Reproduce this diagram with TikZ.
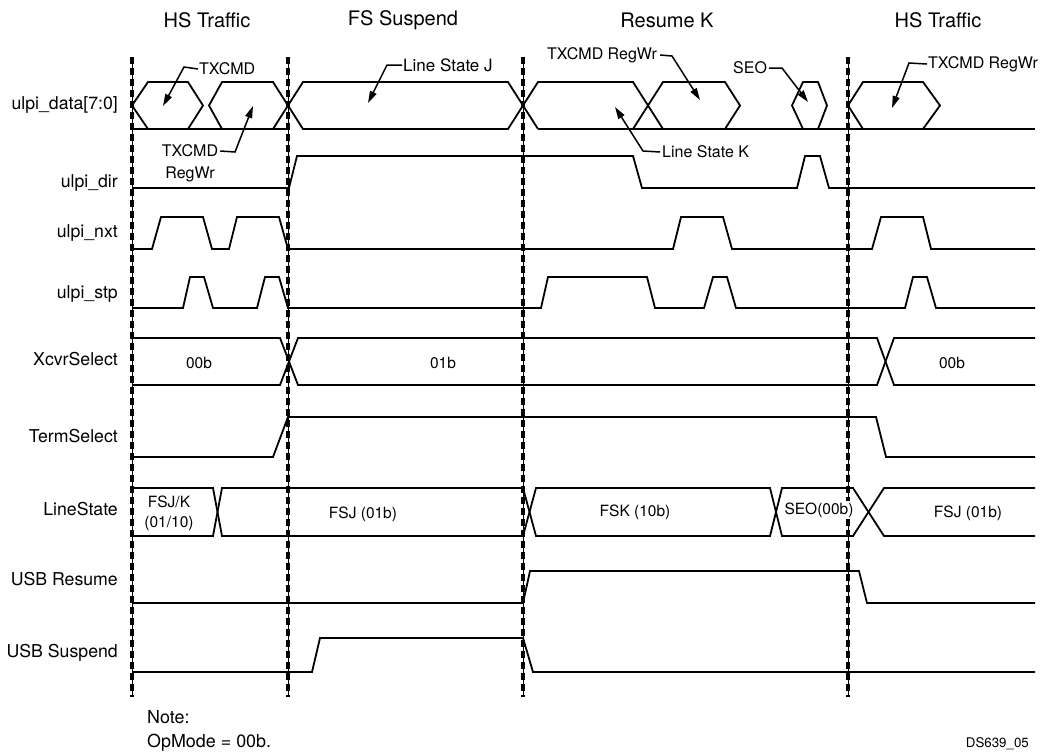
\documentclass[tikz,border=0pt]{standalone}
\usepackage{fontspec}
\setmainfont{TeX Gyre Heros}
\usetikzlibrary{arrows.meta}
\begin{document}
\begin{tikzpicture}[x=1pt,y=-1pt,
  sig/.style={line width=1.8pt, line join=miter},
  guide/.style={line width=3.2pt, dash pattern=on 7pt off 4pt},
  guidethin/.style={line width=0.8pt},
  head/.style={font=\fontsize{20}{22}\selectfont, inner sep=0pt},
  siglab/.style={font=\fontsize{17.7}{20}\selectfont, inner sep=0pt, anchor=east},
  val/.style={font=\fontsize{15.5}{18}\selectfont, inner sep=0pt},
  ann/.style={font=\fontsize{16}{18}\selectfont, inner sep=0pt},
  lead/.style={line width=1.5pt, -{Triangle[length=12pt,width=7pt]}},
  note/.style={font=\fontsize{17.9}{20}\selectfont, inner sep=0pt, anchor=west}]
\useasboundingbox (0,0) rectangle (1041,755);
\fill[white] (0,0) rectangle (1041,755);

% headings
\node[head] (h1) at (207,20) {HS Traffic};
\node[head] (h2) at (403,20) {FS Suspend};
\node[head] (h3) at (667,20) {Resume K};
\node[head] (h4) at (938,20) {HS Traffic};

% signal labels
\node[siglab] (l1) at (118,105) {ulpi\_data[7:0]};
\node[siglab] (l2) at (118,183) {ulpi\_dir};
\node[siglab] (l3) at (118,233) {ulpi\_nxt};
\node[siglab] (l4) at (118,294) {ulpi\_stp};
\node[siglab] (l5) at (118,359) {XcvrSelect};
\node[siglab] (l6) at (118,436) {TermSelect};
\node[siglab] (l7) at (118,509) {LineState};
\node[siglab] (l8) at (118,579) {USB Resume};
\node[siglab] (l9) at (118,653) {USB Suspend};

% guide lines
\foreach \gx in {132,288,523,848}{
  \draw[guidethin] (\gx,57) -- (\gx,697);
  \draw[guide] (\gx,57) -- (\gx,697);
}

% ulpi_data
\draw[sig] (148,129) -- (132,105.5) -- (148,82) -- (188,82) -- (203,105.5) -- (188,129);
\draw[sig] (222,129) -- (209,105.5) -- (222,82) -- (273,82) -- (288,105.5) -- (273,129);
\draw[sig] (132,129) -- (288,129);
\draw[sig] (288,105.5) -- (303,82) -- (508,82) -- (523,105.5) -- (508,129) -- (303,129) -- cycle;
\draw[sig] (538,129) -- (523,105.5) -- (538,82) -- (633,82) -- (663,129);
\draw[sig] (633,129) -- (663,82) -- (725,82) -- (740,105.5) -- (725,129);
\draw[sig] (803,129) -- (792,105.5) -- (803,82) -- (818,82) -- (827,105.5) -- (818,129);
\draw[sig] (863,129) -- (848,105.5) -- (863,82) -- (923,82) -- (940,105.5) -- (923,129);
\draw[sig] (538,129) -- (1035,129);

% ulpi_dir
\draw[sig] (132,188) -- (289,188) -- (297,156) -- (633,156) -- (642,188) -- (797,188) -- (805,156) -- (820,156) -- (829,188) -- (1035,188);

% ulpi_nxt
\draw[sig] (132,249) -- (152,249) -- (161,217) -- (203,217) -- (212,249) -- (229,249) -- (237,217) -- (279,217) -- (288,249) -- (673,249) -- (681,217) -- (723,217) -- (732,249) -- (872,249) -- (881,217) -- (923,217) -- (931,249) -- (1035,249);

% ulpi_stp
\draw[sig] (132,308) -- (183,308) -- (190,277) -- (204,277) -- (213,308) -- (257,308) -- (265,277) -- (279,277) -- (288,308) -- (541,308) -- (548,277) -- (647,277) -- (655,308) -- (704,308) -- (713,277) -- (727,277) -- (736,308) -- (905,308) -- (913,277) -- (927,277) -- (936,308) -- (1035,308);

% XcvrSelect
\draw[sig] (132,338) -- (280,338) -- (298,385) -- (877,385) -- (894,338) -- (1035,338);
\draw[sig] (132,385) -- (280,385) -- (298,338) -- (877,338) -- (894,385) -- (1035,385);
\node[val] (v1) at (199,363) {00b};
\node[val] (v2) at (443,363) {01b};
\node[val] (v3) at (952,363) {00b};

% TermSelect
\draw[sig] (132,457) -- (273,457) -- (288,417) -- (876,417) -- (886,457) -- (1035,457);

% LineState
\draw[sig] (132,488) -- (213,488) -- (222,536) -- (523,536) -- (536,488) -- (770,488) -- (782,536) -- (853,536) -- (884,488) -- (1035,488);
\draw[sig] (132,536) -- (213,536) -- (222,488) -- (523,488) -- (536,536) -- (770,536) -- (782,488) -- (853,488) -- (884,536) -- (1035,536);
\node[val] (v4) at (169,502) {FSJ/K};
\node[val] (v5) at (169,523) {(01/10)};
\node[val] (v6) at (363,514) {FSJ (01b)};
\node[val] (v7) at (635,512) {FSK (10b)};
\node[val, fill=white, inner ysep=2pt] (v8) at (819,510) {SEO(00b)};
\node[val] (v9) at (968,513) {FSJ (01b)};

% USB Resume
\draw[sig] (132,603) -- (523,603) -- (530,571) -- (859,571) -- (867,603) -- (1035,603);
% USB Suspend
\draw[sig] (132,672) -- (312,672) -- (320,638) -- (523,638) -- (533,672) -- (1035,672);

% annotations
\node[ann, anchor=west] (a1) at (199,69) {TXCMD};
\coordinate (t1) at (163,106);
\draw[lead] ([xshift=-1pt]a1.west) -- (184,67) -- (t1);

\node[ann] (a2) at (190,151) {TXCMD};
\node[ann] (a2b) at (190,174) {RegWr};
\coordinate (t2) at (253,106);
\draw[lead] ([xshift=2pt]a2.east) -- (235,152) -- (t2);

\node[ann, anchor=west, font=\fontsize{17}{19}\selectfont] (a3) at (403,65) {Line State J};
\coordinate (t3) at (368,103);
\draw[lead] ([xshift=-1pt]a3.west) -- (387,65) -- (t3);

\node[ann, anchor=west] (a4) at (547,55) {TXCMD RegWr};
\coordinate (t4) at (700,100);
\draw[lead] ([xshift=3pt]a4.east) -- (672,56) -- (t4);

\node[ann, anchor=west] (a5) at (662,152) {Line State K};
\coordinate (t5) at (615,107);
\draw[lead] ([xshift=-2pt]a5.west) -- (643,151) -- (t5);

\node[ann, anchor=west] (a6) at (733,68) {SEO};
\coordinate (t6) at (808,102);
\draw[lead] ([xshift=2pt]a6.east) -- (782,68) -- (t6);

\node[ann, anchor=west] (a7) at (928,64) {TXCMD RegWr};
\coordinate (t7) at (892,108);
\draw[lead] ([xshift=-1pt]a7.west) -- (909,63) -- (t7);

% notes
\node[note] (n1) at (147,717) {Note:};
\node[note] (n2) at (147,743) {OpMode = 00b.};
\node[font=\fontsize{13.3}{15}\selectfont, inner sep=0pt, anchor=east] (ds) at (1029,744) {DS639\_05};
\end{tikzpicture}
\end{document}
